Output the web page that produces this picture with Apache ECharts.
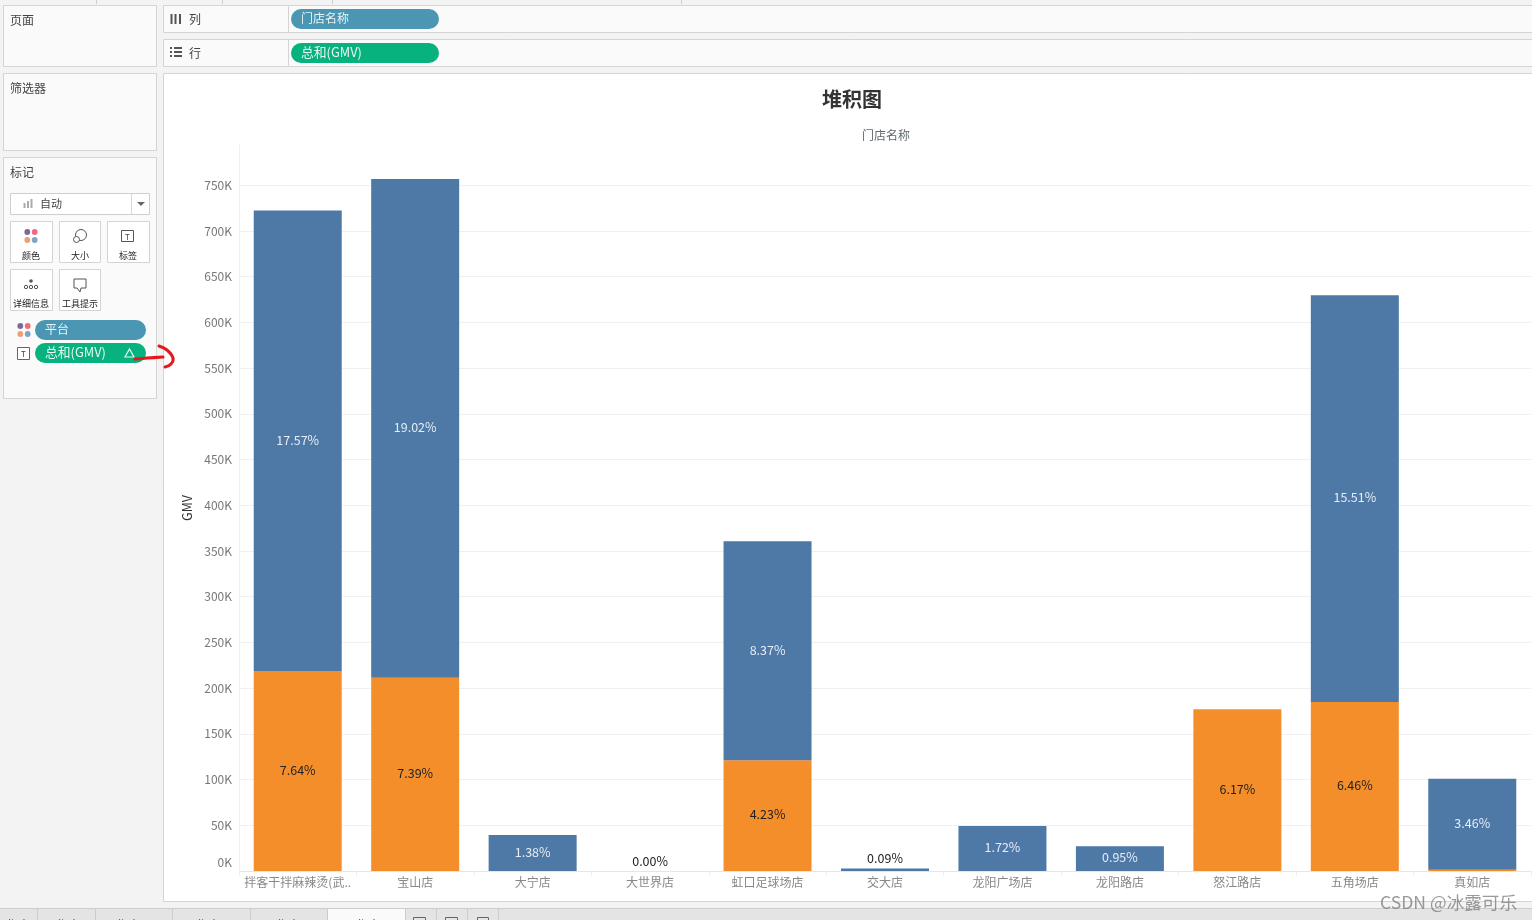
<!DOCTYPE html>
<html>
<head>
<meta charset="utf-8">
<title>堆积图</title>
<style>
html, body { margin: 0; padding: 0; background: #f3f3f3; }
#main { width: 1532px; height: 920px; }
</style>
<script src="https://cdn.jsdelivr.net/npm/echarts@6/dist/echarts.min.js"></script>
</head>
<body>
<div id="main"></div>
<script>
var stores = ['拌客干拌麻辣烫(武..', '宝山店', '大宁店', '大世界店', '虹口足球场店', '交大店', '龙阳广场店', '龙阳路店', '怒江路店', '五角场店', '真如店'];
// GMV 读图估算，null 表示该平台没有这家店
var blueGmv = [503800, 545300, 39500, 0, 239500, 2600, 49200, 27200, null, 444900, 99500];
var orangeGmv = [218600, 211400, null, null, 121000, null, null, null, 177000, 184800, 1500];
var bluePct = ['17.57%', '19.02%', '1.38%', '0.00%', '8.37%', '0.09%', '1.72%', '0.95%', '', '15.51%', '3.46%'];
var orangePct = ['7.64%', '7.39%', '', '', '4.23%', '', '', '', '6.17%', '6.46%', ''];

var FONT = '"Noto Sans CJK SC", sans-serif';
var graphics = [];

function box(x, y, w, h, fill, stroke, z) {
    graphics.push({
        type: 'rect', z: z === undefined ? -1 : z, silent: true,
        shape: { x: x, y: y, width: w, height: h },
        style: { fill: fill, stroke: stroke || null, lineWidth: 1 }
    });
}
function pill(x, y, w, h, fill) {
    graphics.push({
        type: 'rect', z: 5, silent: true,
        shape: { x: x, y: y, width: w, height: h, r: h / 2 },
        style: { fill: fill }
    });
}
function txt(x, y, s, size, color, align) {
    graphics.push({
        type: 'text', z: 6, silent: true, x: x, y: y,
        style: { text: s, fontSize: size, fill: color, fontFamily: FONT, align: align || 'left', verticalAlign: 'middle' }
    });
}
function dot(x, y, r, fill, stroke) {
    graphics.push({
        type: 'circle', z: 6, silent: true,
        shape: { cx: x, cy: y, r: r },
        style: { fill: fill, stroke: stroke || null, lineWidth: 1 }
    });
}
function line(x1, y1, x2, y2, color, w) {
    graphics.push({
        type: 'line', z: 6, silent: true,
        shape: { x1: x1, y1: y1, x2: x2, y2: y2 },
        style: { stroke: color, lineWidth: w || 1 }
    });
}
function tIcon(x, y, s) {
    box(x, y, s, s, '#fff', '#666', 6);
    txt(x + s / 2, y + s / 2, 'T', 8, '#444', 'center');
}
function fourDots(cx, cy) {
    dot(cx - 3.7, cy - 4, 2.9, '#7b6a95');
    dot(cx + 3.7, cy - 4, 2.9, '#ee6a7c');
    dot(cx - 3.7, cy + 4, 2.9, '#f0a070');
    dot(cx + 3.7, cy + 4, 2.9, '#7ea3c9');
}

// 左边的卡片
box(3.5, 5.5, 153, 61, '#fafafa', '#d4d4d4');
txt(10, 20, '页面', 12, '#444');
box(3.5, 73.5, 153, 77, '#fafafa', '#d4d4d4');
txt(10, 88, '筛选器', 12, '#444');
box(3.5, 157.5, 153, 241, '#fafafa', '#d4d4d4');
txt(10, 172, '标记', 12, '#444');

// 标记下拉框
box(10.5, 193.5, 139, 21, '#fff', '#cfcfcf', 1);
line(131.5, 194, 131.5, 214, '#d8d8d8');
graphics.push({
    type: 'polygon', z: 6, silent: true,
    shape: { points: [[137, 202], [145, 202], [141, 206]] },
    style: { fill: '#666' }
});
line(24.5, 203, 24.5, 208, '#aaa', 2);
line(28, 201, 28, 208, '#aaa', 2);
line(31.5, 199, 31.5, 208, '#aaa', 2);
txt(40, 204, '自动', 11, '#444');

// 标记按钮
box(10.5, 221.5, 42, 41, '#fff', '#d4d4d4', 1);
box(59.5, 221.5, 41, 41, '#fff', '#d4d4d4', 1);
box(107.5, 221.5, 42, 41, '#fff', '#d4d4d4', 1);
box(10.5, 269.5, 42, 41, '#fff', '#d4d4d4', 1);
box(59.5, 269.5, 41, 41, '#fff', '#d4d4d4', 1);
fourDots(31, 236);
txt(31, 256, '颜色', 9, '#222', 'center');
dot(81, 235, 5.5, '#fff', '#555');
dot(76.5, 239.5, 3, '#fff', '#555');
txt(80, 256, '大小', 9, '#222', 'center');
box(121.5, 230.5, 12, 11, '#fff', '#555', 6);
txt(127.5, 236.5, 'T', 8, '#444', 'center');
txt(128, 256, '标签', 9, '#222', 'center');
dot(31, 281, 1.8, '#555');
dot(26, 287, 1.7, '#fff', '#555');
dot(31, 287, 1.7, '#fff', '#555');
dot(36, 287, 1.7, '#fff', '#555');
txt(31, 304, '详细信息', 9, '#222', 'center');
graphics.push({
    type: 'polyline', z: 6, silent: true,
    shape: { points: [[74, 279], [86, 279], [86, 288], [81, 288], [80, 292], [77, 288], [74, 288], [74, 279]] },
    style: { fill: '#fff', stroke: '#555', lineWidth: 1 }
});
txt(80, 304, '工具提示', 9, '#222', 'center');

// 标记胶囊
fourDots(24, 330);
pill(35, 320, 111, 20, '#4a96b3');
txt(45, 329, '平台', 12, '#e8f3f6');
tIcon(17.5, 347.5, 12);
pill(35, 343, 111, 20, '#07b27f');
txt(45, 352, '总和(GMV)', 12.8, '#e8f8f2');
graphics.push({
    type: 'polygon', z: 7, silent: true,
    shape: { points: [[129.5, 349], [134, 357], [125, 357]] },
    style: { fill: 'none', stroke: '#e8f8f2', lineWidth: 1.2 }
});

// 红色手绘箭头
graphics.push({
    type: 'polyline', z: 8, silent: true,
    shape: { points: [[135, 359], [147, 358], [163, 357]], smooth: 0.3 },
    style: { fill: 'none', stroke: '#e5191c', lineWidth: 3.2, lineCap: 'round' }
});
graphics.push({
    type: 'polyline', z: 8, silent: true,
    shape: { points: [[159, 346], [167, 350], [173, 358], [171, 364], [165, 367]], smooth: 0.4 },
    style: { fill: 'none', stroke: '#e5191c', lineWidth: 3, lineCap: 'round' }
});

// 列 / 行 功能区
box(163.5, 5.5, 1375, 27, '#fafafa', '#d4d4d4');
box(163.5, 39.5, 1375, 27, '#fafafa', '#d4d4d4');
line(288.5, 6, 288.5, 32, '#d4d4d4');
line(288.5, 40, 288.5, 66, '#d4d4d4');
line(171.5, 14, 171.5, 24, '#555', 2);
line(175.5, 14, 175.5, 24, '#555', 2);
line(180, 14, 180, 24, '#555', 2);
txt(189, 19, '列', 12, '#444');
line(170, 48, 172, 48, '#555', 2);
line(170, 52, 172, 52, '#555', 2);
line(170, 56, 172, 56, '#555', 2);
line(174, 48, 182, 48, '#555', 2);
line(174, 52, 182, 52, '#555', 2);
line(174, 56, 182, 56, '#555', 2);
txt(189, 53, '行', 12, '#444');
pill(291, 9, 148, 20, '#4a96b3');
txt(301, 18, '门店名称', 12, '#e8f3f6');
pill(291, 43, 148, 20, '#07b27f');
txt(301, 52, '总和(GMV)', 12.8, '#e8f8f2');

// 顶部小刻度
[96.5, 222.5, 332.5, 681.5].forEach(function (x) {
    line(x, 0, x, 4, '#cfcfcf');
});

// 图表区白底
box(163.5, 73.5, 1375, 828, '#fff', '#d4d4d4');

// 底部工作表标签栏
box(0, 909, 1532, 11, '#e4e4e4', null, -1);
line(0, 908.5, 1532, 908.5, '#cccccc');
box(328, 909, 77, 12, '#fafafa', null, 1);
[37.5, 95.5, 172.5, 250.5, 327.5, 405.5, 436.5, 467.5, 498.5].forEach(function (x) {
    line(x, 909, x, 920, '#cccccc');
});
txt(-6, 925, '工作表 2', 12, '#444');
txt(44, 925, '工作表 3', 12, '#444');
txt(104, 925, '工作表 3 (2)', 12, '#444');
txt(184, 925, '工作表 3 (3)', 12, '#444');
txt(264, 925, '工作表 3 (4)', 12, '#444');
txt(344, 925, '工作表 3 (5)', 12, '#444');
box(413.5, 917.5, 12, 6, 'none', '#666', 6);
box(445.5, 917.5, 12, 6, 'none', '#666', 6);
box(477.5, 917.5, 11, 6, 'none', '#666', 6);

// 水印
graphics.push({
    type: 'text', z: 20, silent: true, x: 1380, y: 902,
    style: { text: 'CSDN @冰露可乐', fontSize: 17.6, fill: 'rgba(120,120,120,0.75)', fontFamily: FONT, verticalAlign: 'middle' }
});

var blueData = blueGmv.map(function (v, i) {
    // 太矮的柱子标签放到顶上，黑字
    if (v !== null && v < 10000) {
        return { value: v, label: { position: 'top', color: '#222', distance: 4, offset: [0, 0] } };
    }
    return v;
});

var chart = echarts.init(document.getElementById('main'));
chart.setOption({
    animation: false,
    backgroundColor: '#f3f3f3',
    textStyle: { fontFamily: FONT },
    title: [
        { text: '堆积图', left: 847, top: 84, textAlign: 'center', textStyle: { fontSize: 20, fontWeight: 'bold', color: '#333', fontFamily: FONT } },
        { text: '门店名称', left: 881, top: 124, textAlign: 'center', textStyle: { fontSize: 12, fontWeight: 'normal', color: '#5f6b70', fontFamily: FONT } }
    ],
    grid: { left: 239, top: 145, width: 1292, bottom: 49, containLabel: false },
    xAxis: {
        type: 'category',
        data: stores,
        axisLine: { lineStyle: { color: '#e6e6e6' } },
        axisTick: { show: true, length: 5, lineStyle: { color: '#eeeeee' } },
        axisLabel: { color: '#888', fontSize: 12, margin: 5, interval: 0 }
    },
    yAxis: {
        type: 'value',
        min: 0,
        max: 794000,
        interval: 50000,
        name: 'GMV',
        nameLocation: 'middle',
        nameGap: 43,
        nameTextStyle: { color: '#333', fontSize: 12.5 },
        axisLine: { show: true, lineStyle: { color: '#efefef' } },
        axisTick: { show: false },
        axisLabel: {
            color: '#777', fontSize: 12, margin: 7, showMaxLabel: false,
            verticalAlignMinLabel: 'bottom',
            rich: { zero: { color: '#777', fontSize: 12, padding: [0, 0, 3, 0] } },
            formatter: function (v) {
                return v === 0 ? '{zero|0K}' : v / 1000 + 'K';
            }
        },
        splitLine: { showMaxLine: false, lineStyle: { color: '#f0f0f0' } }
    },
    series: [
        {
            name: 'orange', type: 'bar', stack: 'gmv', barWidth: 88,
            data: orangeGmv,
            itemStyle: { color: '#f48e2b' },
            label: {
                show: true, position: 'inside', color: '#222', fontSize: 12.5, offset: [0, -1],
                formatter: function (p) { return orangePct[p.dataIndex]; }
            }
        },
        {
            name: 'blue', type: 'bar', stack: 'gmv', barWidth: 88,
            data: blueData,
            itemStyle: { color: '#4e79a7' },
            label: {
                show: true, position: 'inside', color: '#e6edf4', fontSize: 12.5, offset: [0, -1],
                formatter: function (p) { return bluePct[p.dataIndex]; }
            }
        }
    ],
    graphic: { elements: graphics }
});
</script>
</body>
</html>
